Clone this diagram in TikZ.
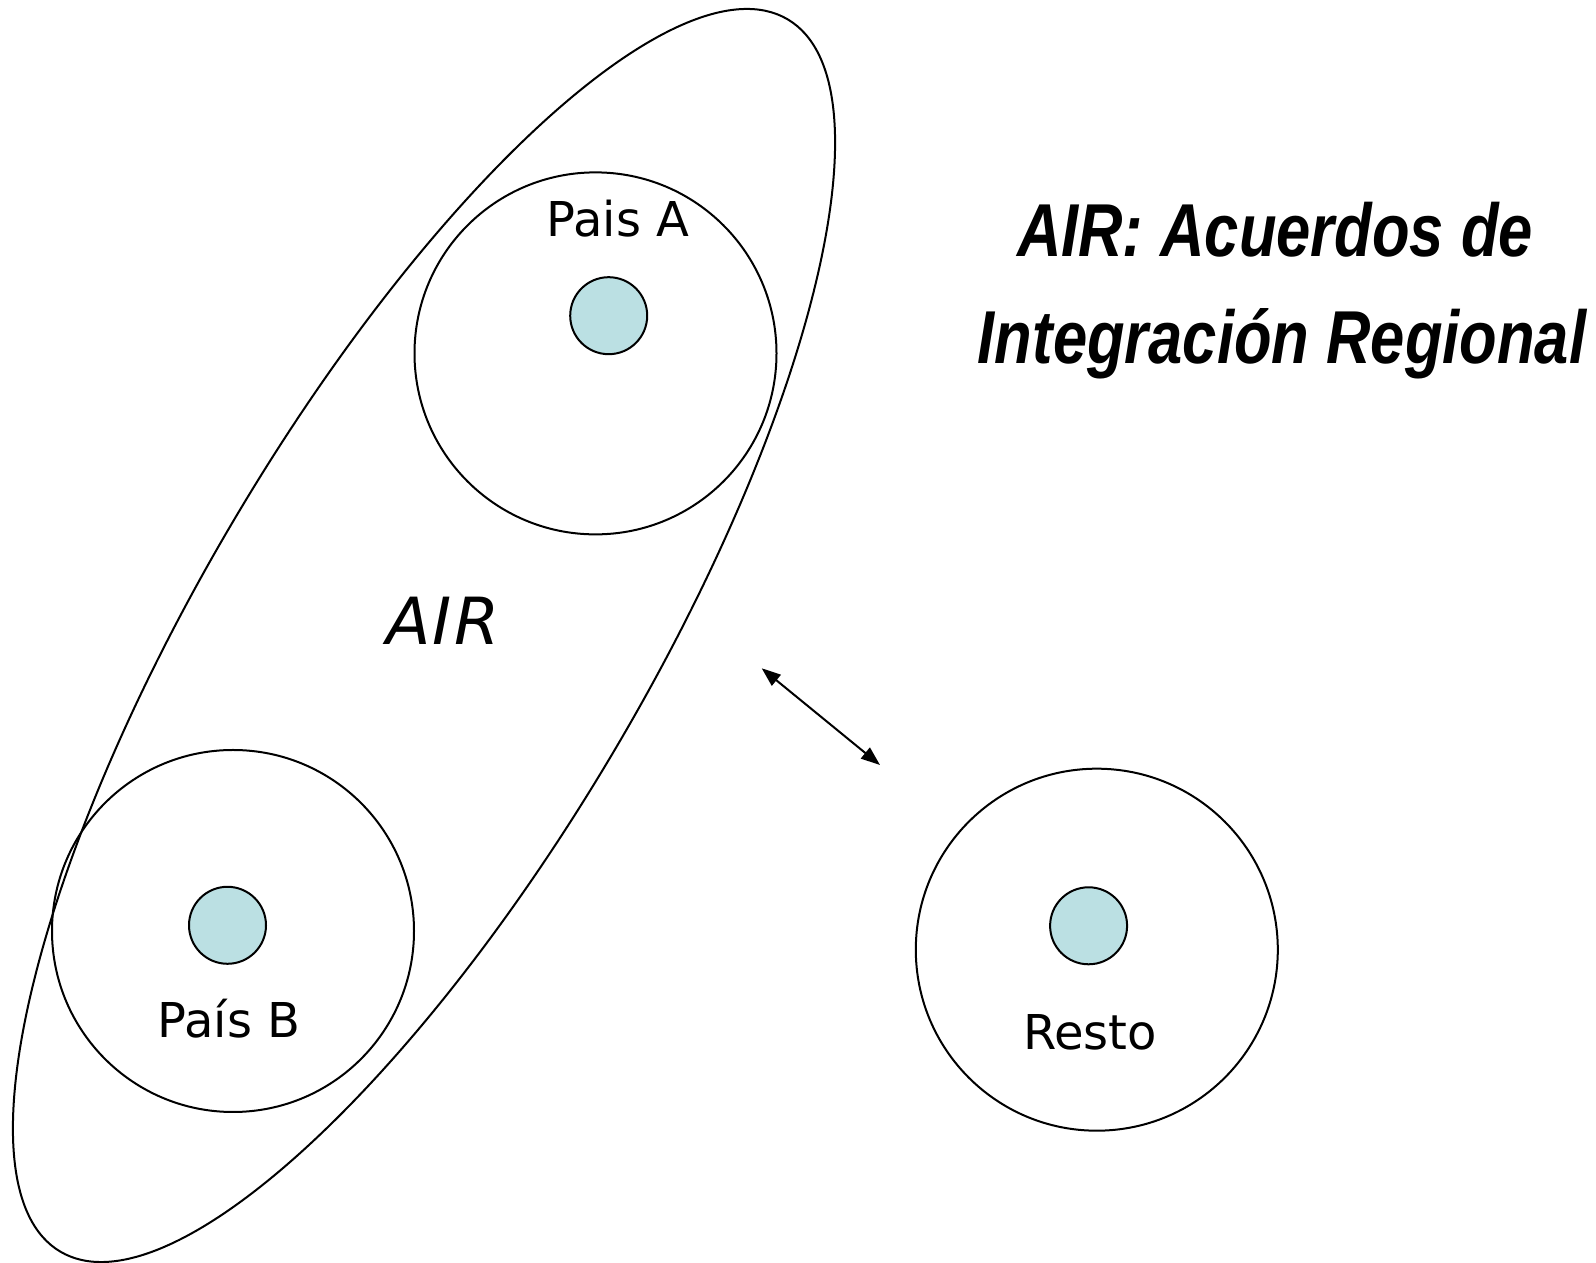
\documentclass[tikz,border=0pt]{standalone}
\usepackage{fontspec}
\setmainfont{DejaVu Sans}
\newfontface\titlefont[FakeStretch=0.82]{Liberation Sans Bold Italic}
\newfontface\airfont[LetterSpace=4]{DejaVu Sans Oblique}
\usetikzlibrary{arrows.meta}
\definecolor{dotfill}{HTML}{BBE0E3}
\tikzset{
  outline/.style={draw=black, line width=2pt},
  country/.style={outline, circle, minimum size=362pt, inner sep=0pt},
  core/.style={draw=black, line width=2pt, circle, fill=dotfill, minimum size=77pt, inner sep=0pt},
  lbl/.style={font=\fontsize{48}{58}\selectfont, anchor=base, inner sep=0pt},
  airlbl/.style={font=\airfont\fontsize{65}{78}\selectfont, anchor=base, inner sep=0pt},
  titlelbl/.style={font=\titlefont\fontsize{75}{107}\selectfont, anchor=base, inner sep=0pt},
  link/.style={line width=2pt, {Triangle[length=19pt,width=14pt]}-{Triangle[length=19pt,width=14pt]}}
}
\begin{document}
\begin{tikzpicture}[x=1pt,y=1pt]
\useasboundingbox (0,0) rectangle (1596,1263);
% AIR ellipse
\draw[outline, rotate around={59.45:(424,627.5)}] (424,627.5) ellipse [x radius=715.5, y radius=222.4];
% countries
\node[country] (A) at (595.5,909.6) {};
\node[core] (Ac) at (608.7,947.3) {};
\node[lbl] (Alab) at (618,1026) {Pais A};
\node[country] (B) at (233,332) {};
\node[core] (Bc) at (227.5,337.7) {};
\node[lbl] (Blab) at (229,225) {País B};
\node[country] (R) at (1096.8,313.3) {};
\node[core] (Rc) at (1088.6,337.2) {};
\node[lbl] (Rlab) at (1090,213) {Resto};
\node[airlbl] (air) at (443,618) {AIR};
% arrow
\coordinate (p1) at (761.7,594.7);
\coordinate (p2) at (880,498);
\draw[link] (p1) -- (p2);
% title
\node[titlelbl] (t1) at (1275,1006.5) {AIR: Acuerdos de};
\node[titlelbl] (t2) at (1282,899.6) {Integración Regional};
\end{tikzpicture}
\end{document}
